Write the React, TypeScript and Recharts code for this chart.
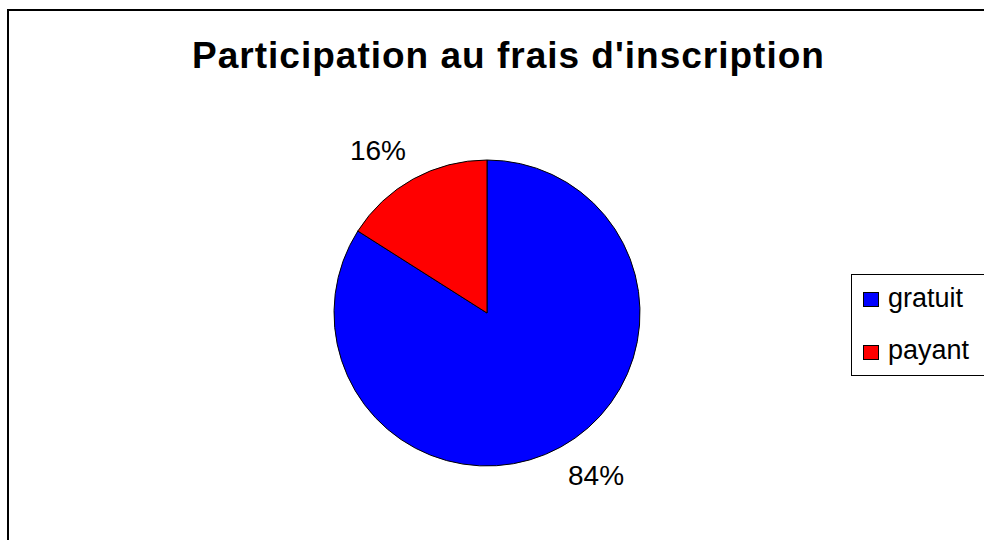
import React from "react";
import { PieChart, Pie, Cell, Legend } from "recharts";

const categories = ["gratuit", "payant"];
const values = [84, 16];
const colors = ["#0000FF", "#FF0000"];
const title = "Participation au frais d'inscription";

const data = categories.map((name, i) => ({ name, value: values[i] }));

const RADIAN = Math.PI / 180;
const FONT = "Liberation Sans, Arial, sans-serif";

const renderLabel = (props: any) => {
  const { cx, cy, midAngle, percent } = props;
  const r = 196;
  const a = (midAngle + 5) * RADIAN;
  const x = cx + r * Math.cos(-a);
  const y = cy + r * Math.sin(-a);
  return (
    <text
      x={x}
      y={y}
      textAnchor="middle"
      dominantBaseline="central"
      fontFamily={FONT}
      fontSize={28}
      fill="#000"
    >
      {`${Math.round(percent * 100)}%`}
    </text>
  );
};

const LegendContent = (props: any) => {
  const { payload } = props;
  const items = payload || [];
  return (
    <svg width={140} height={104} style={{ display: "block" }}>
      <rect x={0.5} y={0.5} width={145} height={101} fill="#fff" stroke="#000" strokeWidth={1} />
      {items.map((p: any, i: number) => (
        <g key={i}>
          <rect x={12.5} y={18.5 + i * 53} width={15} height={14} fill={p.color} stroke="#000" strokeWidth={1} />
          <text x={37} y={33 + i * 52} fontFamily={FONT} fontSize={27} fill="#000">
            {p.value}
          </text>
        </g>
      ))}
    </svg>
  );
};

export default function App() {
  return (
    <div style={{ position: "absolute", left: 0, top: 0, width: 984, height: 540, background: "#fff", overflow: "hidden" }}>
      <div
        style={{
          position: "absolute",
          left: 7,
          top: 9,
          width: 990,
          height: 540,
          borderTop: "2px solid #000",
          borderLeft: "2px solid #000",
          boxSizing: "border-box",
        }}
      />
      <svg width={984} height={100} style={{ position: "absolute", left: 0, top: 0 }}>
        <text
          x={508.5}
          y={68}
          textAnchor="middle"
          fontFamily={FONT}
          fontWeight="bold"
          fontSize={37}
          letterSpacing={1}
          fill="#000"
        >
          {title}
        </text>
      </svg>
      <div style={{ position: "absolute", left: 0, top: 0 }}>
        <PieChart width={984} height={540} margin={{ top: 0, right: 0, bottom: 0, left: 0 }}>
          <Pie
            data={data}
            dataKey="value"
            nameKey="name"
            cx={487}
            cy={313}
            outerRadius={153}
            startAngle={90}
            endAngle={-270}
            stroke="#000"
            strokeWidth={1}
            label={renderLabel}
            labelLine={false}
            isAnimationActive={false}
          >
            {data.map((d, i) => (
              <Cell key={d.name} fill={colors[i]} />
            ))}
          </Pie>
          <Legend
            layout="vertical"
            content={<LegendContent />}
            wrapperStyle={{ position: "absolute", left: 851, top: 274, width: 140, height: 104 }}
          />
        </PieChart>
      </div>
    </div>
  );
}
